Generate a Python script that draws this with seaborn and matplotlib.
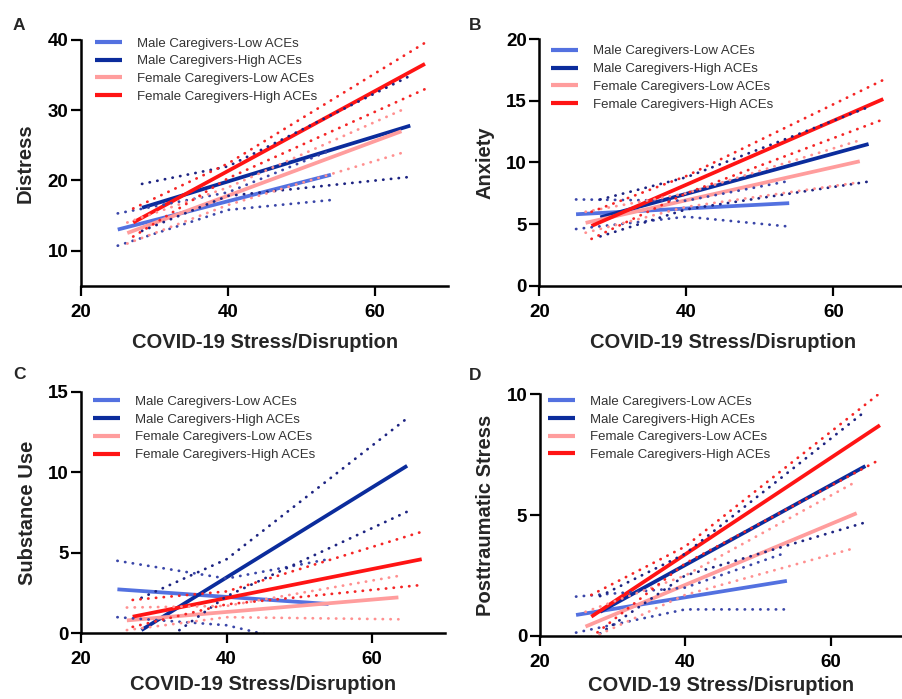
import pandas as pd
import seaborn as sns
import matplotlib.pyplot as plt

sns.set_style('ticks')
plt.rcParams['font.family'] = ['Liberation Sans', 'DejaVu Sans']

# groups and colours
groups = ['Male Caregivers-Low ACEs', 'Male Caregivers-High ACEs',
          'Female Caregivers-Low ACEs', 'Female Caregivers-High ACEs']
line_colors = ['#5371e0', '#0b2c9c', '#ff9d9d', '#ff1414']
band_colors = ['#3a46a8', '#1d2482', '#ff9090', '#f52525']

# x range of each regression line (same sample in all panels)
x_start = [25.0, 28.3, 26.3, 27.1]
x_mid = [40.0, 40.0, 40.0, 40.0]
x_end = [54.0, 64.8, 63.6, 66.8]

# A - Distress
distress_start = [13.0, 16.1, 12.5, 14.0]
distress_end = [20.8, 27.8, 27.0, 36.6]
distress_lower = [[10.7, 15.8, 17.2], [12.8, 17.8, 20.5], [11.0, 16.5, 23.9], [12.0, 20.3, 33.0]]
distress_upper = [[15.3, 18.3, 24.3], [19.5, 22.0, 34.9], [14.0, 19.0, 30.0], [16.0, 22.4, 39.6]]

# B - Anxiety
anxiety_start = [5.8, 5.55, 5.1, 4.85]
anxiety_end = [6.7, 11.5, 10.1, 15.15]
anxiety_lower = [[4.6, 5.6, 4.8], [4.0, 6.2, 8.45], [4.3, 6.4, 8.4], [3.8, 7.5, 13.5]]
anxiety_upper = [[7.0, 6.9, 8.5], [7.0, 8.8, 14.5], [6.0, 7.5, 11.8], [6.0, 8.9, 16.7]]

# C - Substance Use
substance_start = [2.73, 0.2, 0.8, 1.03]
substance_end = [1.82, 10.4, 2.23, 4.6]
substance_lower = [[1.0, 0.5, -1.0], [-1.5, 2.3, 7.55], [0.2, 1.0, 0.87], [0.4, 1.8, 3.0]]
substance_upper = [[4.5, 3.4, 4.6], [2.2, 4.6, 13.35], [1.6, 1.7, 3.56], [2.07, 2.6, 6.3]]

# D - Posttraumatic Stress
ptsd_start = [0.87, 1.0, 0.39, 0.8]
ptsd_end = [2.28, 7.03, 5.08, 8.72]
ptsd_lower = [[0.14, 1.1, 1.1], [0.1, 2.5, 4.7], [-0.2, 1.7, 3.66], [-0.05, 3.0, 7.3]]
ptsd_upper = [[1.63, 2.0, 3.46], [1.65, 3.4, 9.3], [1.0, 2.5, 6.4], [1.7, 3.7, 10.05]]

panels = [
    ('A', 'Distress', distress_start, distress_end, distress_lower, distress_upper,
     (5, 40), [10, 20, 30, 40], [81, 285.7, 367.5, 245.7], (13, 30), -0.125, -0.1925, (0.038, 1.011)),
    ('B', 'Anxiety', anxiety_start, anxiety_end, anxiety_lower, anxiety_upper,
     (0, 20), [0, 5, 10, 15, 20], [539.3, 285.7, 367.5, 246.4], (469, 30), -0.123, -0.192, (0.032, 0.976)),
    ('C', 'Substance Use', substance_start, substance_end, substance_lower, substance_upper,
     (0, 15), [0, 5, 10, 15], [81, 633.3, 364, 241.6], (13, 379), -0.121, -0.172, (0.033, 0.984)),
    ('D', 'Posttraumatic Stress', ptsd_start, ptsd_end, ptsd_lower, ptsd_upper,
     (0, 10), [0, 5, 10], [539.7, 636, 363.5, 241.7], (469, 380), -0.123, -0.165, (0.023, 0.995)),
]

W, H = 902, 699
fig = plt.figure(figsize=(W / 100, H / 100), dpi=100)

for letter, ylabel, y0, y1, lo, hi, ylim, yticks, box, lpos, ylx, xly, legpos in panels:
    left, bottom, width, height = box
    ax = fig.add_axes([left / W, 1 - bottom / H, width / W, height / H])

    lines = pd.DataFrame({'x': x_start + x_end, 'y': y0 + y1, 'group': groups * 2})
    sns.lineplot(data=lines, x='x', y='y', hue='group', hue_order=groups,
                 palette=line_colors, lw=2.7, solid_capstyle='butt', ax=ax)

    rows = []
    for i, g in enumerate(groups):
        xs = [x_start[i], x_mid[i], x_end[i]]
        for b, vals in (('lower', lo[i]), ('upper', hi[i])):
            for xv, yv in zip(xs, vals):
                rows.append((xv, yv, g, b))
    bands = pd.DataFrame(rows, columns=['x', 'y', 'group', 'bound'])
    sns.lineplot(data=bands, x='x', y='y', hue='group', hue_order=groups, units='bound',
                 estimator=None, palette=band_colors, lw=2.0, linestyle=(0, (0.1, 2.7)),
                 dash_capstyle='round', legend=False, ax=ax)

    # legend
    leg = ax.get_legend()
    handles = leg.legend_handles
    labels = [t.get_text() for t in leg.get_texts()]
    for h, c in zip(handles, line_colors):
        h.set_linewidth(3)
        h.set_color(c)
    ax.legend(handles, labels, loc='upper left', bbox_to_anchor=legpos, frameon=False,
              fontsize=9.5, handlelength=2.05, handletextpad=1.1, labelspacing=0.42,
              borderpad=0, borderaxespad=0, labelcolor='#333333')

    ax.set_xlim(20, 70)
    ax.set_ylim(*ylim)
    ax.set_xticks([20, 40, 60])
    ax.set_yticks(yticks)
    sns.despine(ax=ax)
    for s in ('left', 'bottom'):
        ax.spines[s].set_linewidth(1.8)
        ax.spines[s].set_color('black')
    ax.tick_params(length=7, width=1.6, labelsize=13.5, colors='black')
    ax.tick_params(axis='x', pad=6)
    ax.tick_params(axis='y', pad=2)
    for lbl in ax.get_xticklabels() + ax.get_yticklabels():
        lbl.set_fontweight('bold')

    ax.set_xlabel('COVID-19 Stress/Disruption', fontsize=14.5, fontweight='bold')
    ax.set_ylabel(ylabel, fontsize=14.5, fontweight='bold')
    ax.xaxis.set_label_coords(0.5, xly)
    ax.yaxis.set_label_coords(ylx, 0.5)

    fig.text(lpos[0] / W, 1 - lpos[1] / H, letter, fontsize=12.5, fontweight='bold',
             va='baseline', ha='left')

fig.savefig('out.png', dpi=100)
